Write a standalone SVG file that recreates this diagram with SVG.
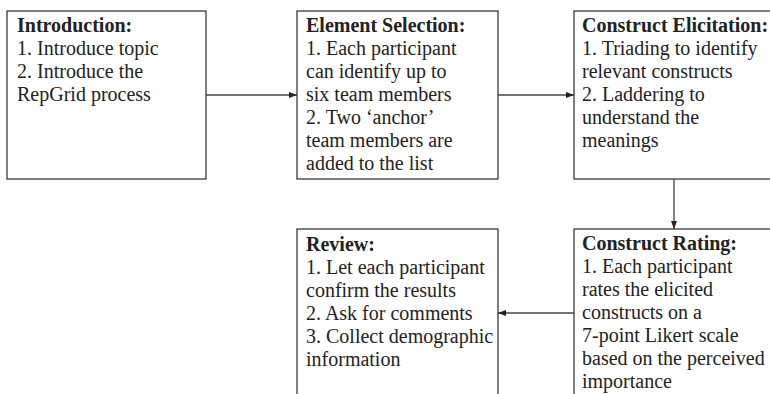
<svg xmlns="http://www.w3.org/2000/svg" width="770" height="394" viewBox="0 0 770 394">
<defs>
<style>
.box{fill:#fff;stroke:#3a3a3a;stroke-width:1.3}
.t{font-family:"Liberation Serif","Times New Roman",serif;font-size:20px;fill:#222}
.b{font-weight:bold}
.c{stroke:#444;stroke-width:1.3;fill:none}
</style>
<marker id="ah" markerWidth="8" markerHeight="6" refX="8" refY="3" orient="auto" markerUnits="userSpaceOnUse">
<path d="M0,0 L8,3 L0,6 Z" fill="#222"/>
</marker>
</defs>
<rect width="770" height="394" fill="#fff"/>
<g id="connectors">
<line class="c" x1="206" y1="95" x2="297" y2="95" marker-end="url(#ah)"/>
<line class="c" x1="498" y1="95" x2="574" y2="95" marker-end="url(#ah)"/>
<line class="c" x1="674" y1="179" x2="674" y2="229" marker-end="url(#ah)"/>
<line class="c" x1="574" y1="313" x2="498" y2="313" marker-end="url(#ah)"/>
</g>
<g id="introduction">
<rect class="box" x="7" y="11" width="199" height="168"/>
<text class="t" x="17"><tspan class="b" y="32">Introduction:</tspan><tspan x="17" y="55">1. Introduce topic</tspan><tspan x="17" y="78">2. Introduce the</tspan><tspan x="17" y="101">RepGrid process</tspan></text>
</g>
<g id="element-selection">
<rect class="box" x="297" y="11" width="201" height="168"/>
<text class="t" x="306"><tspan class="b" y="32">Element Selection:</tspan><tspan x="306" y="55">1. Each participant</tspan><tspan x="306" y="78">can identify up to</tspan><tspan x="306" y="101">six team members</tspan><tspan x="306" y="124">2. Two ‘anchor’</tspan><tspan x="306" y="147">team members are</tspan><tspan x="306" y="170">added to the list</tspan></text>
</g>
<g id="construct-elicitation">
<rect class="box" x="574" y="11" width="210" height="168"/>
<text class="t" x="582"><tspan class="b" y="32">Construct Elicitation:</tspan><tspan x="582" y="55">1. Triading to identify</tspan><tspan x="582" y="78">relevant constructs</tspan><tspan x="582" y="101">2. Laddering to</tspan><tspan x="582" y="124">understand the</tspan><tspan x="582" y="147">meanings</tspan></text>
</g>
<g id="construct-rating">
<rect class="box" x="574" y="229" width="210" height="180"/>
<text class="t" x="582"><tspan class="b" y="250">Construct Rating:</tspan><tspan x="582" y="273">1. Each participant</tspan><tspan x="582" y="296">rates the elicited</tspan><tspan x="582" y="319">constructs on a</tspan><tspan x="582" y="342">7-point Likert scale</tspan><tspan x="582" y="365">based on the perceived</tspan><tspan x="582" y="388">importance</tspan></text>
</g>
<g id="review">
<rect class="box" x="297" y="229" width="201" height="180"/>
<text class="t" x="306"><tspan class="b" y="251">Review:</tspan><tspan x="306" y="274">1. Let each participant</tspan><tspan x="306" y="297">confirm the results</tspan><tspan x="306" y="320">2. Ask for comments</tspan><tspan x="306" y="343">3. Collect demographic</tspan><tspan x="306" y="366">information</tspan></text>
</g>
</svg>
